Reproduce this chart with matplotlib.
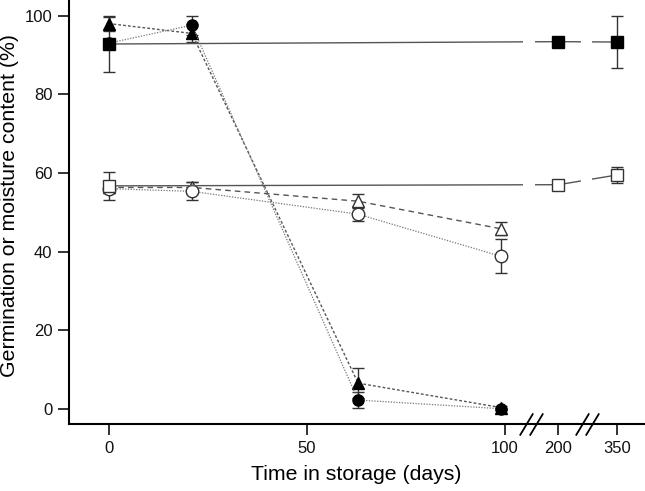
import numpy as np
import matplotlib
matplotlib.use("Agg")
import matplotlib.pyplot as plt
import matplotlib.transforms as mtransforms

plt.rcParams['font.family'] = ['Liberation Sans', 'DejaVu Sans']

# broken x axis: real days -> drawn position
real_pts = np.array([-100, 0, 100, 200, 350, 600])
disp_pts = np.array([-100, 0, 100, 113.6, 128.5, 153.3])

def fwd(x):
    return np.interp(x, real_pts, disp_pts)

def inv(x):
    return np.interp(x, disp_pts, real_pts)

# filled squares
sqf_x = [0, 200, 350]
sqf_y = [92.8, 93.4, 93.3]
sqf_e = [7.0, 0.5, 6.7]
# open squares
sqo_x = [0, 200, 350]
sqo_y = [56.7, 57.0, 59.5]
sqo_e = [3.6, 0.8, 2.0]
# filled triangles
trf_x = [0, 21, 63, 99]
trf_y = [98.0, 95.5, 6.5, 0.3]
trf_e = [2.0, 2.3, 3.8, 0.3]
# filled circles
cif_x = [0, 21, 63, 99]
cif_y = [93.0, 97.6, 2.2, 0.0]
cif_e = [0.0, 2.4, 2.1, 0.3]
# open triangles
tro_x = [0, 21, 63, 99]
tro_y = [56.3, 56.3, 52.8, 45.8]
tro_e = [1.0, 1.5, 1.8, 1.7]
# open circles
cio_x = [0, 21, 63, 99]
cio_y = [56.0, 55.3, 49.5, 38.8]
cio_e = [1.0, 2.3, 1.7, 4.3]

xticks = [0, 50, 100, 200, 350]
yticks = [0, 20, 40, 60, 80, 100]

fig = plt.figure(figsize=(6.45, 4.91), dpi=100)
ax = fig.add_axes([69/645, 1 - 424.3/491, 1 - 69/645, 424.3/491])
ax.set_xscale('function', functions=(fwd, inv))

lc = '#555555'
ec = '#333333'
common = dict(ecolor=ec, elinewidth=1.0, capsize=4, capthick=1.0, zorder=3)

ax.errorbar(trf_x, trf_y, yerr=trf_e, marker='^', ms=9, mfc='k', mec='k',
            color=lc, lw=1.0, ls=(0, (2, 1.5)), **common)
ax.errorbar(cif_x, cif_y, yerr=cif_e, marker='o', ms=8, mfc='k', mec='k',
            color='#777777', lw=0.9, ls=(0, (1, 1.2)), **common)
ax.errorbar(tro_x, tro_y, yerr=tro_e, marker='^', ms=9, mfc='white', mec='#333333',
            color=lc, lw=1.0, ls=(0, (4, 3)), **common)
ax.errorbar(cio_x, cio_y, yerr=cio_e, marker='o', ms=9, mfc='white', mec='#333333',
            color='#777777', lw=0.9, ls=(0, (1, 1.2)), **common)
ax.errorbar(sqf_x, sqf_y, yerr=sqf_e, marker='s', ms=8, mfc='k', mec='k',
            color=lc, lw=1.0, ls='-', **common)
ax.errorbar(sqo_x, sqo_y, yerr=sqo_e, marker='s', ms=8, mfc='white', mec='#333333',
            color=lc, lw=1.0, ls='-', **common)

# gaps in lines at the breaks
for a, b in [(135, 156), (258, 284)]:
    ax.axvspan(a, b, ymin=0.01, ymax=1, color='white', zorder=4, lw=0)

# break marks on the x axis
trans = mtransforms.blended_transform_factory(ax.transData, ax.transAxes)
for xb in [139, 158, 261, 286]:
    ax.plot([xb], [0], transform=trans, marker=[(-0.6, -1), (0.6, 1)], ms=16,
            mew=1.3, mec='k', ls='none', clip_on=False, zorder=6)

ax.set_xlim(-10, 420)
ax.set_ylim(-3.97, 104)
ax.set_xticks(xticks)
ax.set_xticklabels([str(t) for t in xticks])
ax.set_yticks(yticks)
ax.tick_params(direction='out', length=8, width=1.2, labelsize=12, pad=4, colors='#111111')
for s in ['top', 'right']:
    ax.spines[s].set_visible(False)
for s in ['left', 'bottom']:
    ax.spines[s].set_linewidth(1.5)
    ax.spines[s].set_zorder(5)

ax.set_xlabel('Time in storage (days)', fontsize=15.3)
ax.set_ylabel('Germination or moisture content (%)', fontsize=15.3)
ax.xaxis.set_label_coords(0.498, -0.095)
ax.yaxis.set_label_coords(-0.104, 0.5145)
ax.yaxis.label.set_va('center')

fig.savefig('out.png', dpi=100)
